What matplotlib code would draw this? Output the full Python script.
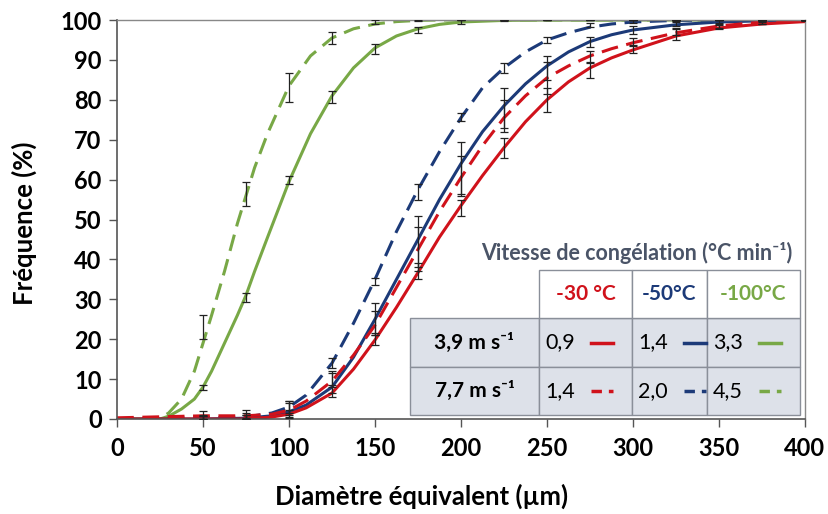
import matplotlib
matplotlib.use("Agg")
import matplotlib.pyplot as plt
from matplotlib.patches import Rectangle
from matplotlib.lines import Line2D

plt.rcParams['font.family'] = ['Lato', 'DejaVu Sans']

RED = '#d0121b'
BLUE = '#1c3a78'
GREEN = '#78a846'

# fitted curves
x_green = [0, 20, 25, 30, 37.5, 45, 50, 55, 62.5, 70, 75, 80, 87.5, 100, 112.5, 125,
           137.5, 150, 162.5, 175, 187.5, 200, 225, 250, 400]
green_39 = [0, 0, 0, 0.7, 2.5, 5, 8, 12, 19, 26, 31, 37, 45.5, 59.5, 71.5, 81,
            88, 93, 96, 97.8, 98.9, 99.5, 99.9, 100, 100]
green_77 = [0, 0, 0.2, 1.5, 5, 12, 19, 26, 37, 49, 56, 63, 71.5, 83.5, 91, 95.5,
            97.8, 99, 99.6, 99.9, 100, 100, 100, 100, 100]

x_rb = [0, 50, 75, 90, 100, 110, 125, 137.5, 150, 162.5, 175, 187.5, 200, 212.5,
        225, 237.5, 250, 262.5, 275, 287.5, 300, 325, 350, 375, 400]
blue_77 = [0, 0.3, 0.5, 1.5, 3, 6, 14, 24, 35, 47, 57.5, 67, 75.5, 83, 88, 92,
           95, 96.8, 98.2, 99, 99.5, 99.9, 100, 100, 100]
blue_39 = [0, 0, 0.2, 0.8, 1.8, 3.5, 8, 15.5, 25, 35, 45, 55, 64, 72, 78.5, 84,
           88.5, 92, 94.6, 96.3, 97.5, 98.8, 99.5, 99.8, 100]
red_77 = [0.3, 0.8, 0.8, 1.2, 2.2, 4.5, 9.5, 16, 23.5, 33, 42.5, 52, 60.5, 68.5,
          75.5, 81, 85.5, 88.5, 91, 92.8, 94.3, 96.8, 98.5, 99.5, 100]
red_39 = [0, 0, 0, 0.5, 1.2, 2.8, 6.5, 12.5, 19.8, 28, 36.7, 45.6, 53.5, 61, 68,
          74.5, 80, 84.5, 88, 90.5, 92.5, 96, 98, 99, 99.6]

# measured points with error bars
x_pts = [50, 75, 100, 125, 150, 175, 200, 225, 250, 275, 300, 325, 350, 375, 400]
green_39_m = [7.9, 30.5, 59.8, 80.8, 92.8, 97.5, 99.5, 99.9, 100, 100, 100, 100, 100, 100, 100]
green_39_e = [0.6, 1.2, 1.0, 1.5, 1.2, 0.8, 0.4, 0.2, 0.1, 0.1, 0.1, 0.1, 0.1, 0.1, 0.1]
green_77_m = [23, 56.5, 83, 95.6, 99.5, 99.9, 100, 100, 100, 100, 100, 100, 100, 100, 100]
green_77_e = [3, 3, 3.6, 1.5, 0.5, 0.2, 0.1, 0.1, 0.1, 0.1, 0.1, 0.1, 0.1, 0.1, 0.1]
blue_77_m = [0.5, 0.8, 3, 14, 34.5, 57, 75.8, 88, 95, 98.7, 99.6, 99.9, 100, 100, 100]
blue_77_e = [0.5, 0.8, 1.5, 1.3, 0.8, 2, 1, 1.3, 0.7, 0.5, 0.3, 0.2, 0.1, 0.1, 0.1]
blue_39_m = [0.3, 0.5, 2.5, 9, 25, 44, 63, 78, 88, 94.5, 97.5, 99, 99.6, 99.9, 100]
blue_39_e = [0.5, 0.6, 2, 2.5, 4, 7, 6.5, 5, 3, 1.3, 1, 0.5, 0.3, 0.1, 0.1]
red_77_m = [1, 1.2, 2.5, 10, 24, 43, 61, 76, 85.5, 90.7, 94.5, 97, 98.5, 99.4, 100]
red_77_e = [1, 1, 1.5, 2, 3, 5, 5, 4, 4, 1.5, 1, 0.8, 0.5, 0.3, 0.1]
red_39_m = [0.3, 0.5, 1.2, 7, 20, 37, 53, 68, 80, 87.5, 92.7, 96.5, 98.3, 99.3, 99.8]
red_39_e = [0.4, 0.5, 1, 1.5, 1.5, 2, 2, 2.5, 3, 2, 1, 1.5, 0.5, 0.3, 0.1]

# table contents
temps = ['-30 °C', '-50°C', '-100°C']
temp_colors = [RED, BLUE, GREEN]
speeds = ['3,9 m s⁻¹', '7,7 m s⁻¹']
rates = [['0,9', '1,4', '3,3'], ['1,4', '2,0', '4,5']]

W, H = 829, 514
fig = plt.figure(figsize=(W / 100, H / 100), dpi=100)
ax = fig.add_axes([117 / W, 1 - 419 / H, (805 - 117) / W, (419 - 20) / H])

dash = (5.5, 2.8)
lw = 2.2
ax.plot(x_green, green_39, color=GREEN, lw=lw)
ax.plot(x_green, green_77, color=GREEN, lw=lw, dashes=dash)
ax.plot(x_rb, blue_39, color=BLUE, lw=lw)
ax.plot(x_rb, blue_77, color=BLUE, lw=lw, dashes=dash)
ax.plot(x_rb, red_39, color=RED, lw=lw)
ax.plot(x_rb, red_77, color=RED, lw=lw, dashes=dash)

for m, e in [(green_39_m, green_39_e), (green_77_m, green_77_e),
             (blue_77_m, blue_77_e), (blue_39_m, blue_39_e),
             (red_77_m, red_77_e), (red_39_m, red_39_e)]:
    ax.errorbar(x_pts, m, yerr=e, fmt='none', ecolor='#222222',
                elinewidth=0.9, capsize=3, capthick=0.9, zorder=5)

ax.set_xlim(0, 400)
ax.set_ylim(0, 100)
ax.set_xticks(range(0, 401, 50))
ax.set_yticks(range(0, 101, 10))
ax.tick_params(direction='out', length=6, width=1, color='#555555',
               labelsize=17)
ax.tick_params(axis='x', pad=7)
ax.tick_params(axis='y', pad=5)
for lab in ax.get_xticklabels() + ax.get_yticklabels():
    lab.set_fontweight('bold')
for s in ['left', 'bottom']:
    ax.spines[s].set_color('#555555')
    ax.spines[s].set_linewidth(1.2)
for s in ['top', 'right']:
    ax.spines[s].set_color('#888888')
    ax.spines[s].set_linewidth(1)
ax.set_xlabel('Diamètre équivalent (µm)', fontsize=18.5, fontweight='bold', va='center')
ax.xaxis.set_label_coords(0.443, -0.195)
ax.set_ylabel('Fréquence (%)', fontsize=18.5, fontweight='bold', va='center')
ax.yaxis.set_label_coords(-0.134, 0.49)

# table drawn in figure pixels
def fx(px):
    return px / W

def fy(py):
    return 1 - py / H

cols = [410, 539, 632, 707, 800]
rows = [270, 318, 367, 415]
edge = '#8a8f99'
fill = '#dde1e9'
for r in range(1, 3):
    for c in range(4):
        fig.patches.append(Rectangle((fx(cols[c]), fy(rows[r + 1])),
                                     fx(cols[c + 1]) - fx(cols[c]),
                                     fy(rows[r]) - fy(rows[r + 1]),
                                     transform=fig.transFigure, facecolor=fill,
                                     edgecolor=edge, lw=1, zorder=10))
for c in range(1, 4):
    fig.patches.append(Rectangle((fx(cols[c]), fy(rows[1])),
                                 fx(cols[c + 1]) - fx(cols[c]),
                                 fy(rows[0]) - fy(rows[1]),
                                 transform=fig.transFigure, facecolor='white',
                                 edgecolor=edge, lw=1, zorder=10))

fig.text(fx(637), fy(253), 'Vitesse de congélation (°C min⁻¹)', ha='center',
         va='center', fontsize=15.5, fontweight='bold', color='#4a5467', zorder=11)
for c in range(3):
    fig.text(fx((cols[c + 1] + cols[c + 2]) / 2), fy((rows[0] + rows[1]) / 2),
             temps[c], ha='center', va='center', fontsize=15,
             fontweight='bold', color=temp_colors[c], zorder=11)
for r in range(2):
    yc = fy((rows[r + 1] + rows[r + 2]) / 2)
    fig.text(fx((cols[0] + cols[1]) / 2), yc, speeds[r], ha='center', va='center',
             fontsize=15, fontweight='bold', color='black', zorder=11)
    for c in range(3):
        x0 = cols[c + 1]
        fig.text(fx(x0 + 6), yc, rates[r][c], ha='left', va='center',
                 fontsize=15.5, color='black', zorder=11)
        ln = Line2D([fx(x0 + 52), fx(x0 + 74)], [yc, yc], transform=fig.transFigure,
                    color=temp_colors[c], lw=2.5, zorder=11)
        if r == 1:
            ln.set_dashes((3, 2))
        fig.lines.append(ln)

fig.savefig('out.png', dpi=100)
